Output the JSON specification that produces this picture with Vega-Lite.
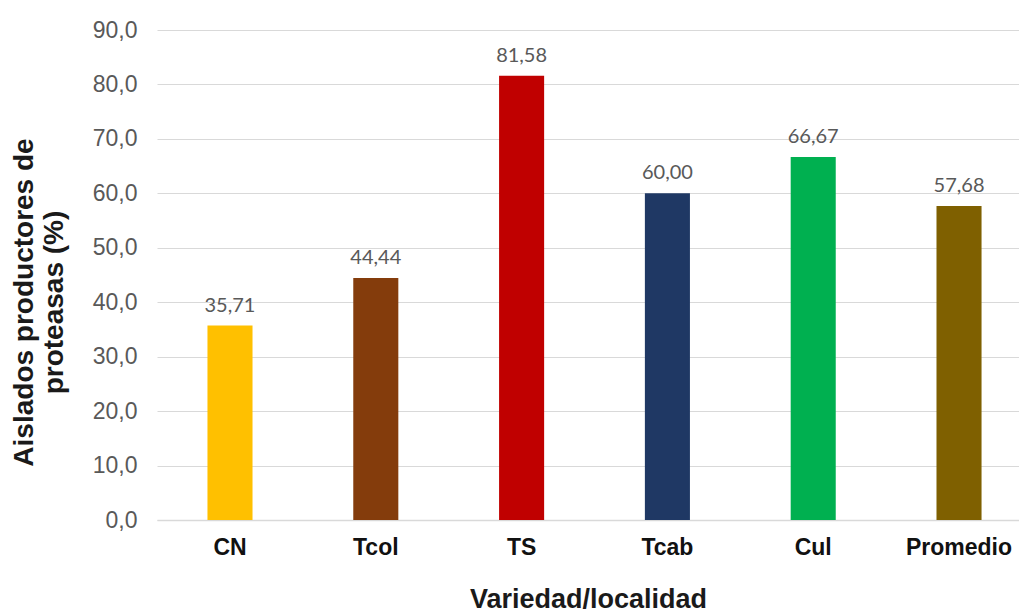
{
  "$schema": "https://vega.github.io/schema/vega-lite/v6.json",
  "width": 862,
  "height": 490,
  "autosize": {"type": "none"},
  "padding": {"left": 157, "top": 30, "right": 0, "bottom": 95},
  "background": "white",
  "config": {
    "locale": {
      "number": {"decimal": ",", "thousands": ".", "grouping": [3], "currency": ["", " €"]}
    },
    "view": {"stroke": null}
  },
  "data": {
    "values": [
      {"grupo": "CN", "pct": 35.71, "color": "#FFC000"},
      {"grupo": "Tcol", "pct": 44.44, "color": "#843C0C"},
      {"grupo": "TS", "pct": 81.58, "color": "#C00000"},
      {"grupo": "Tcab", "pct": 60.00, "color": "#1F3864"},
      {"grupo": "Cul", "pct": 66.67, "color": "#00B050"},
      {"grupo": "Promedio", "pct": 57.68, "color": "#7F6000"}
    ]
  },
  "encoding": {
    "x": {
      "field": "grupo",
      "type": "nominal",
      "sort": null,
      "scale": {"paddingInner": 0.691, "paddingOuter": 0.3015, "align": 0.574},
      "axis": {
        "title": "Variedad/localidad",
        "titleFont": "Liberation Sans",
        "titleFontSize": 27,
        "titleFontWeight": "bold",
        "titleColor": "#1a1a1a",
        "titleBaseline": "alphabetic",
        "titleAnchor": "middle",
        "titleY": 87,
        "labelFont": "Liberation Sans",
        "labelFontSize": 23,
        "labelFontWeight": "bold",
        "labelColor": "#111111",
        "labelAngle": 0,
        "labelPadding": 16,
        "ticks": false,
        "domainColor": "#D9D9D9",
        "domainWidth": 1.5,
        "grid": false
      }
    },
    "y": {
      "field": "pct",
      "type": "quantitative",
      "scale": {"domain": [0, 90], "nice": false},
      "axis": {
        "title": ["Aislados productores de", "proteasas (%)"],
        "titleFont": "Liberation Sans",
        "titleFontSize": 28,
        "titleFontWeight": "bold",
        "titleColor": "#1a1a1a",
        "titleAngle": -90,
        "titleAlign": "center",
        "titleBaseline": "alphabetic",
        "titleLineHeight": 30,
        "titleX": -125,
        "titleY": 272,
        "values": [0, 10, 20, 30, 40, 50, 60, 70, 80, 90],
        "format": ".1f",
        "labelFont": "Liberation Sans",
        "labelFontSize": 23,
        "labelColor": "#595959",
        "labelPadding": 20,
        "ticks": false,
        "domain": false,
        "grid": true,
        "gridColor": "#D9D9D9",
        "gridWidth": 1
      }
    }
  },
  "layer": [
    {
      "mark": {"type": "bar"},
      "encoding": {
        "color": {"field": "color", "type": "nominal", "scale": null, "legend": null}
      }
    },
    {
      "mark": {
        "type": "text",
        "baseline": "alphabetic",
        "align": "center",
        "dy": -14,
        "font": "Lato",
        "fontSize": 20,
        "color": "#595959"
      },
      "encoding": {
        "text": {"field": "pct", "type": "quantitative", "format": ".2f"}
      }
    }
  ]
}
